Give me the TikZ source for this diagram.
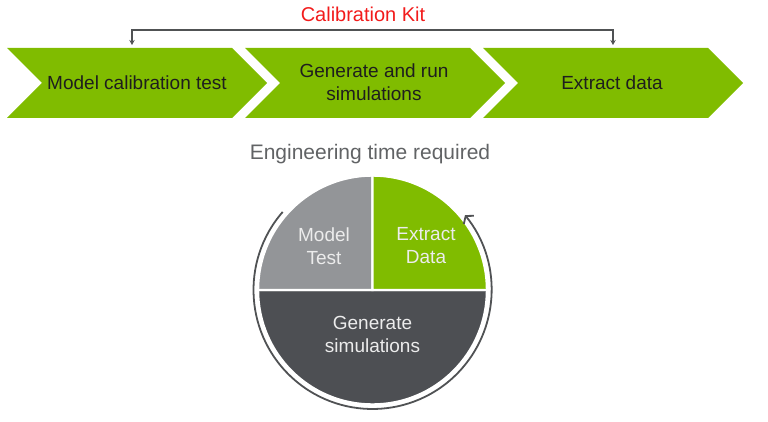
\documentclass[tikz,border=0pt]{standalone}
\usepackage{fontspec}
\setmainfont{Liberation Sans}
\usetikzlibrary{arrows.meta,calc}
\definecolor{kgreen}{HTML}{80BC00}
\definecolor{kgrey}{HTML}{939598}
\definecolor{kdark}{HTML}{4D4F53}
\definecolor{kline}{HTML}{505254}
\definecolor{ktext}{HTML}{1E1E1E}
\definecolor{klight}{HTML}{ECECEC}
\definecolor{kred}{HTML}{F21B1B}
\tikzset{
  chev/.style={fill=kgreen},
  chevtext/.style={text=ktext,align=center,font=\fontsize{19}{23}\selectfont,inner sep=0pt},
  pietext/.style={text=klight,align=center,font=\fontsize{19}{23}\selectfont,inner sep=0pt},
  sector/.style={draw=white,line width=2.4pt},
}
\begin{document}
\begin{tikzpicture}[x=1pt,y=1pt]
\useasboundingbox (0,0) rectangle (768,421);
% chevrons
\foreach \o in {0,238,476}{
  \fill[chev] (7+\o,373) -- (232+\o,373) -- (267+\o,338) -- (232+\o,303) -- (7+\o,303) -- (42+\o,338) -- cycle;
}
\node[chevtext] (c1) at (137,338) {Model calibration test};
\node[chevtext] (c2) at (374,339) {Generate and run\\simulations};
\node[chevtext] (c3) at (612,338) {Extract data};
% calibration kit bracket
\node[text=kred,font=\fontsize{20}{24}\selectfont,inner sep=0pt] (kit) at (363,407) {Calibration Kit};
\coordinate (k1) at (132,376);
\coordinate (k3) at (613,376);
\draw[kline,line width=1.5pt,{Stealth[length=5pt,width=5.5pt]}-{Stealth[length=5pt,width=5.5pt]}]
  (k1) -- (132,391) -- (613,391) -- (k3);
% engineering time
\node[text=kline!90,font=\fontsize{21}{25}\selectfont,inner sep=0pt] (eng) at (370,267) {Engineering time required};
% pie
\coordinate (pc) at (372.5,131);
\def\R{114.5}
\filldraw[sector,fill=kdark] (pc) -- ($(pc)+(180:\R)$) arc[start angle=180,end angle=360,radius=\R] -- cycle;
\filldraw[sector,fill=kgrey] (pc) -- ($(pc)+(90:\R)$) arc[start angle=90,end angle=180,radius=\R] -- cycle;
\filldraw[sector,fill=kgreen] (pc) -- ($(pc)+(0:\R)$) arc[start angle=0,end angle=90,radius=\R] -- cycle;
\draw[kline,line width=1.8pt,-{Straight Barb[length=5pt,width=13pt,line width=1.8pt]}]
  ($(pc)+(139:119)$) arc[start angle=139,end angle=399,radius=119];
\node[pietext] (mt) at (324,175) {Model\\Test};
\node[pietext] (ed) at (426,175) {Extract\\Data};
\node[pietext] (gs) at (372.5,87) {Generate\\simulations};
\end{tikzpicture}
\end{document}
